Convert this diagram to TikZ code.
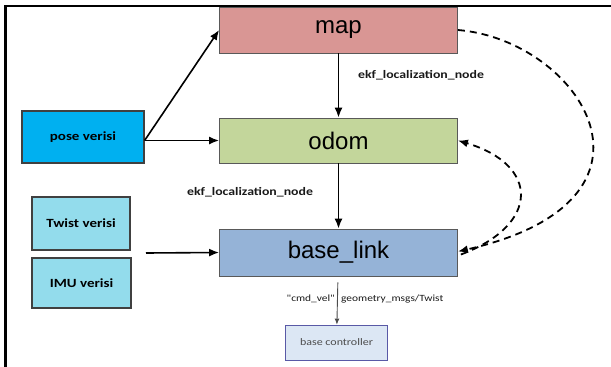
\documentclass[tikz,border=0pt]{standalone}
\usepackage{fontspec}
\usepackage{xcolor}
\usepackage{tikz}
\usetikzlibrary{positioning, arrows.meta}
\newfontfamily\boxfont{Liberation Sans}
\newfontfamily\lblfont[FakeStretch=1.2]{Carlito}
\definecolor{mapred}{RGB}{217,150,148}
\definecolor{odomgreen}{RGB}{195,214,155}
\definecolor{linkblue}{RGB}{149,179,215}
\definecolor{posecyan}{RGB}{0,176,240}
\definecolor{sensorcyan}{RGB}{147,220,236}
\definecolor{ctlblue}{RGB}{220,231,244}

\begin{document}
\begin{tikzpicture}[
    x=1pt, y=-1pt,
    frame/.style={draw, rectangle, minimum width=238pt, inner sep=0pt, draw=gray!70!black, line width=0.8pt, font=\boxfont\fontsize{24}{26}\selectfont},
    src/.style={draw, rectangle, inner sep=0pt, draw=black!75, line width=1.2pt, font=\lblfont\bfseries\fontsize{12.5}{14}\selectfont},
    ctl/.style={draw, rectangle, inner sep=0pt, draw=gray!70!blue, line width=0.8pt, font=\lblfont\fontsize{10}{12}\selectfont, text=black!70},
    lbl/.style={font=\lblfont\bfseries\fontsize{11.5}{13}\selectfont, text=black!90},
    topic/.style={font=\lblfont\fontsize{9.5}{11}\selectfont, text=black!90, inner sep=1pt},
    link/.style={line width=1.6pt, -{Latex[length=10pt,width=8pt]}},
    tf/.style={line width=1.8pt, dash pattern=on 7pt off 5pt, -{Latex[length=10pt,width=8pt]}},
]
\useasboundingbox (0,0) rectangle (611,367);

% Border
\draw[line width=2pt] (4,6) -- (611,6);
\draw[line width=3pt] (5.5,5) -- (5.5,367);

% Coordinate frames
\node[frame, fill=mapred, minimum height=46pt] (map) at (338.5,30) {map};
\node[frame, fill=odomgreen, minimum height=45pt] (odom) at (338.5,140.5) {odom};
\node[frame, fill=linkblue, minimum height=47pt] (base_link) at (338.5,252.5) {base\_link};

% Sensor inputs (left side)
\node[src, fill=posecyan, minimum width=122pt, minimum height=52pt] (pose) at (83,137) {pose verisi};
\node[src, fill=sensorcyan, minimum width=98pt, minimum height=53pt] (twist) at (81,223.5) {Twist verisi};
\node[src, fill=sensorcyan, minimum width=99pt, minimum height=50pt] (imu) at (81.5,283) {IMU verisi};
\coordinate (posefork) at (pose.east |- odom.west);
\coordinate (twistimu) at (146,253);

% Controller
\node[ctl, fill=ctlblue, minimum width=102pt, minimum height=35pt] (basectl) at (336.5,342.5) {base controller};

% Solid links
\draw[link] (posefork) -- (map.west);
\draw[link] (posefork) -- (odom.west);
\draw[link] (twistimu) -- (base_link.west);
\draw[link] (map) -- (odom);
\draw[link] (odom) -- (base_link);
\draw[line width=0.9pt, gray!60!black, shorten <=6pt, -{Latex[length=6pt,width=5pt]}] (base_link) -- (basectl);

% Dashed transforms
\draw[tf] (map.east) .. controls (580,40) and (685,200) .. ([yshift=1pt]base_link.east);
\draw[tf] ([xshift=3pt,yshift=-2pt]base_link.east) .. controls (540,225) and (540,165) .. (odom.east);

% Labels
\node[lbl] (ekf1) at (421,75) {ekf\_localization\_node};
\node[lbl] (ekf2) at (250,192) {ekf\_localization\_node};
\node[topic, anchor=east] (cmdvel) at (336,299) {"cmd\_vel"};
\node[topic, anchor=west] (twistmsg) at (340,299) {geometry\_msgs/Twist};
\end{tikzpicture}
\end{document}
